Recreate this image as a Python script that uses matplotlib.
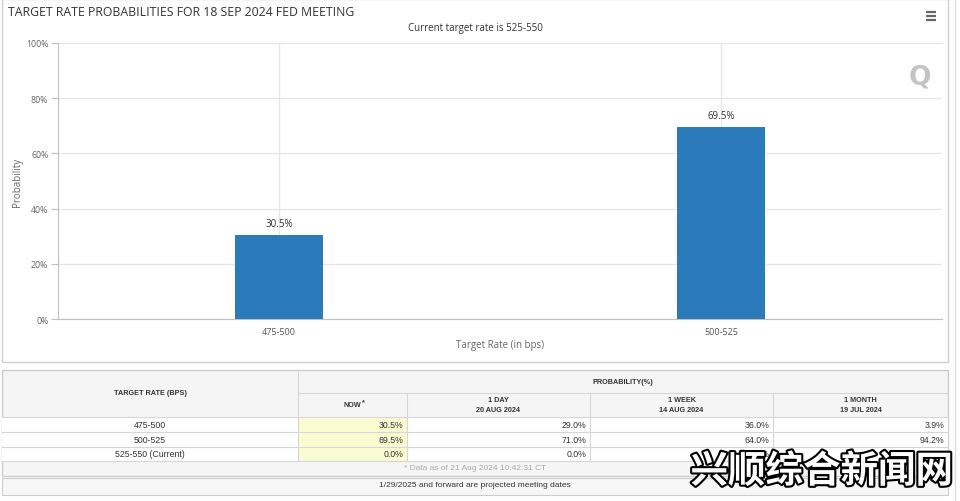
import matplotlib
matplotlib.use("Agg")
import matplotlib.pyplot as plt
import matplotlib.patheffects as pe
from matplotlib.patches import Rectangle
from matplotlib.ticker import FuncFormatter

# ---------------- data ----------------
categories = ['475-500', '500-525']
probabilities = [30.5, 69.5]
y_ticks = [0, 20, 40, 60, 80, 100]

table_rates = ['475-500', '500-525', '525-550 (Current)']
now_vals = [30.5, 69.5, 0.0]
day_vals = [29.0, 71.0, 0.0]
week_vals = [36.0, 64.0, 0.0]
month_vals = [3.9, 94.2, 1.9]
col_headers = [('NOW', ''), ('1 DAY', '20 AUG 2024'), ('1 WEEK', '14 AUG 2024'), ('1 MONTH', '19 JUL 2024')]

title = 'TARGET RATE PROBABILITIES FOR 18 SEP 2024 FED MEETING'
subtitle = 'Current target rate is 525-550'

W, H = 960, 502
fig = plt.figure(figsize=(W / 100, H / 100), dpi=100)
fig.patch.set_facecolor('white')

bg = fig.add_axes([0, 0, 1, 1], zorder=0)
bg.set_xlim(0, W)
bg.set_ylim(H, 0)
bg.axis('off')

CF = 'Open Sans'
TF = 'Liberation Sans'

# chart frame
bg.add_patch(Rectangle((2, 0), 946, 363, fill=False, ec='#cfcfcf', lw=1.0))
bg.plot([955, 955], [0, 502], color='#dddddd', lw=1)
bg.text(8, 12, title, fontsize=8.8, family=CF, color='#333333', va='center', ha='left')
bg.text(475, 29, subtitle, fontsize=7, family=CF, color='#333333', va='center', ha='center')
for yy in (13, 17, 21):
    bg.plot([926, 936], [yy, yy], color='#666666', lw=1.6, solid_capstyle='butt')
bg.text(920, 77, 'Q', fontsize=19, family='DejaVu Sans', weight='bold', color='#c4c4c4', ha='center', va='center')

bg.text(17, 182, 'Probability', fontsize=7, family=CF, color='#666666', rotation=90, ha='center', va='center')
bg.text(500, 346, 'Target Rate (in bps)', fontsize=7, family=CF, color='#666666', ha='center', va='center')

# ---------------- chart ----------------
L, R, T, B = 58, 942, 44, 320
ax = fig.add_axes([L / W, 1 - B / H, (R - L) / W, (B - T) / H], zorder=2)
ax.patch.set_alpha(0)
x = list(range(len(categories)))
ax.bar(x, probabilities, width=0.197, color='#2b7bba', zorder=3)
for xi, v in zip(x, probabilities):
    ax.text(xi, v + 2.2, f'{v:.1f}%', ha='center', va='bottom', fontsize=7, family=CF, color='#333333')
ax.set_xlim(-0.5, len(categories) - 0.5)
ax.set_ylim(0, 100)
ax.set_yticks(y_ticks)
ax.yaxis.set_major_formatter(FuncFormatter(lambda v, p: f'{int(v)}%'))
ax.set_xticks(x)
ax.set_xticklabels(categories)
ax.grid(True, color='#e6e6e6', lw=0.9, zorder=0)
ax.set_axisbelow(True)
for s in ('top', 'right'):
    ax.spines[s].set_visible(False)
for s in ('left', 'bottom'):
    ax.spines[s].set_color('#c0c0c0')
    ax.spines[s].set_linewidth(0.8)
ax.tick_params(axis='y', length=5, color='#c0c0c0', labelsize=6.3, labelcolor='#666666', pad=2)
ax.tick_params(axis='x', length=0, labelsize=6.5, labelcolor='#555555', pad=6)
for lab in ax.get_xticklabels() + ax.get_yticklabels():
    lab.set_family(CF)

# ---------------- table ----------------
tx0, tx1 = 2, 948
cols = [2, 298, 407, 590, 773, 948]
top, mid, hdr_bot = 371, 394, 418
rows = [418, 433, 448, 462]
note_bot = 477
line_c = '#d6d6d6'

bg.add_patch(Rectangle((tx0, top), tx1 - tx0, note_bot - top, fc='#f5f5f5', ec='#cccccc', lw=1.0))
bg.add_patch(Rectangle((tx0, hdr_bot), tx1 - tx0, rows[-1] - hdr_bot, fc='white', ec='none'))
bg.add_patch(Rectangle((cols[1], hdr_bot), cols[2] - cols[1], rows[-1] - hdr_bot, fc='#fbfbd2', ec='none'))
bg.plot([cols[1], tx1], [mid, mid], color=line_c, lw=0.8)
for yy in rows:
    bg.plot([tx0, tx1], [yy, yy], color=line_c, lw=0.8)
bg.plot([cols[1], cols[1]], [top, rows[-1]], color=line_c, lw=0.8)
for cx in cols[2:5]:
    bg.plot([cx, cx], [mid, rows[-1]], color=line_c, lw=0.8)

bg.text((cols[0] + cols[1]) / 2, 394, 'TARGET RATE (BPS)', fontsize=5.2, family=TF, weight='bold', color='#333333', ha='center', va='center')
bg.text((cols[1] + cols[5]) / 2, 383, 'PROBABILITY(%)', fontsize=5.2, family=TF, weight='bold', color='#333333', ha='center', va='center')
for i, (h1, h2) in enumerate(col_headers):
    cx = (cols[i + 1] + cols[i + 2]) / 2
    if h2:
        bg.text(cx, 401, h1, fontsize=5.2, family=TF, weight='bold', color='#333333', ha='center', va='center')
        bg.text(cx, 411, h2, fontsize=5.2, family=TF, weight='bold', color='#333333', ha='center', va='center')
    else:
        bg.text(cx, 406, h1, fontsize=5.2, family=TF, weight='bold', color='#333333', ha='center', va='center')
        bg.text(cx + 11, 403, '*', fontsize=5.2, family=TF, weight='bold', color='#333333', ha='center', va='center')

series = [now_vals, day_vals, week_vals, month_vals]
for r, rate in enumerate(table_rates):
    yc = (rows[r] + rows[r + 1]) / 2
    bg.text((cols[0] + cols[1]) / 2, yc, rate, fontsize=6.3, family=TF, color='#333333', ha='center', va='center')
    for c, vals in enumerate(series):
        bg.text(cols[c + 2] - 4, yc, f'{vals[r]:.1f}%', fontsize=6.3, family=TF, color='#333333', ha='right', va='center')

bg.text(475, 469, '* Data as of 21 Aug 2024 10:42:31 CT', fontsize=6, family=TF, color='#aaaaaa', ha='center', va='center')
bg.add_patch(Rectangle((2, 479), 946, 17, fc='#f7f7f7', ec='#cccccc', lw=0.8, zorder=-1))
bg.text(475, 486, '1/29/2025 and forward are projected meeting dates', fontsize=6, family=TF, color='#333333', ha='center', va='center')

# watermark
fig.text(953 / W, 1 - 472 / H, '兴顺综合新闻网', fontsize=27, family=['Noto Sans CJK SC', 'DejaVu Sans'],
         weight='bold', color='white', ha='right', va='center', zorder=10,
         path_effects=[pe.withStroke(linewidth=3, foreground='black')])

fig.savefig('out.png', dpi=100, facecolor='white')
